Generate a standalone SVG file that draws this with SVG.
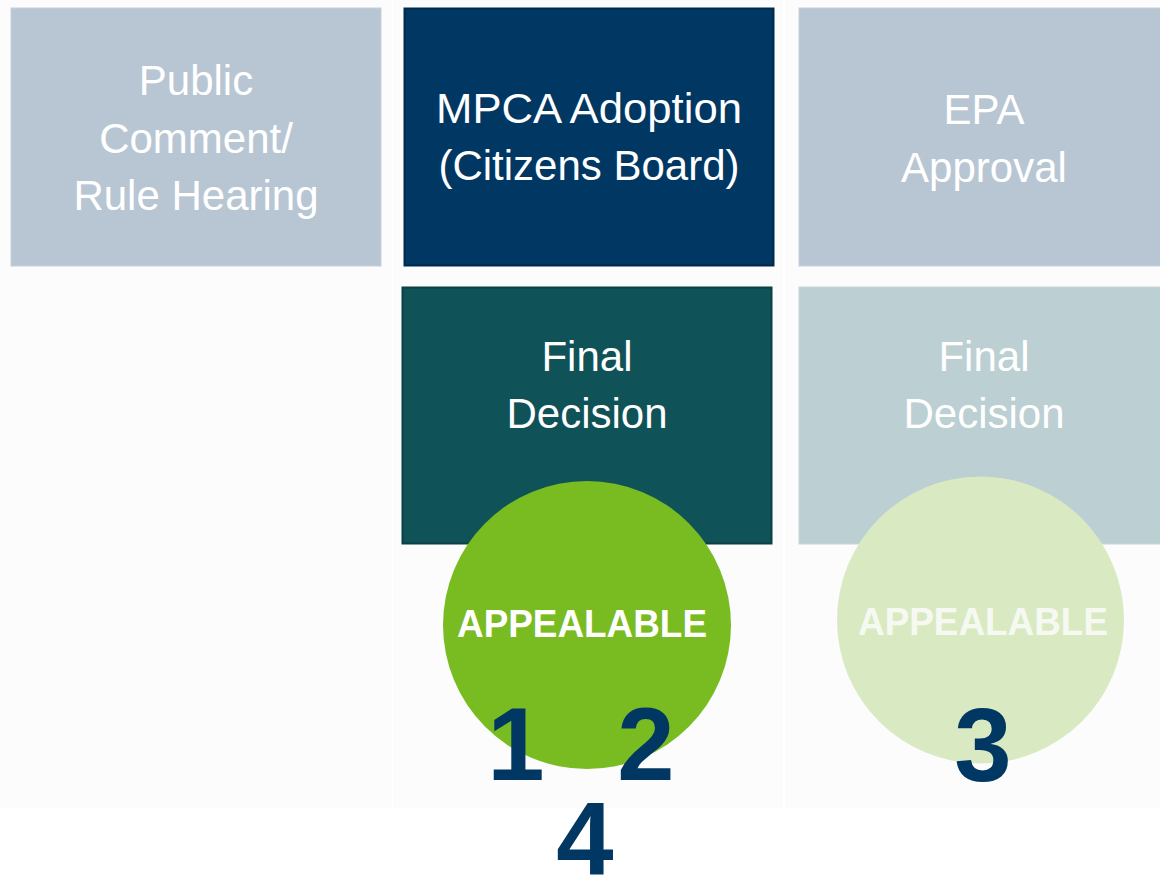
<svg xmlns="http://www.w3.org/2000/svg" width="1160" height="878" viewBox="0 0 1160 878">
<style>
.lbl{font-family:"Liberation Sans",Arial,sans-serif;font-size:42px;fill:#ffffff;text-anchor:middle}
.app{font-family:"Liberation Sans",Arial,sans-serif;font-size:38px;font-weight:bold;text-anchor:middle}
.num{font-family:"Liberation Sans",Arial,sans-serif;font-size:103px;font-weight:bold;fill:#003763;text-anchor:middle}
</style>
<rect x="0" y="0" width="1160" height="878" fill="#ffffff"/>
<g id="columns">
<rect x="0" y="0" width="392" height="808" fill="#fcfcfc"/>
<rect x="393" y="0" width="390" height="808" fill="#fcfcfc"/>
<rect x="785" y="0" width="375" height="808" fill="#fcfcfc"/>
</g>
<g id="public-comment">
<rect x="11" y="8" width="370" height="258" fill="#b8c6d4" stroke="#c4d0dc" stroke-width="1"/>
<text class="lbl" x="196" y="95">Public</text>
<text class="lbl" x="196" y="153">Comment/</text>
<text class="lbl" x="196" y="210">Rule Hearing</text>
</g>
<g id="mpca-adoption">
<rect x="404.5" y="8.5" width="369" height="257" fill="#003763" stroke="#002a4c" stroke-width="2"/>
<text class="lbl" x="589" y="123" textLength="306" lengthAdjust="spacingAndGlyphs">MPCA Adoption</text>
<text class="lbl" x="589" y="180">(Citizens Board)</text>
</g>
<g id="epa-approval">
<rect x="799" y="8" width="370" height="258" fill="#b8c6d4" stroke="#c4d0dc" stroke-width="1"/>
<text class="lbl" x="984" y="124">EPA</text>
<text class="lbl" x="984" y="182">Approval</text>
</g>
<g id="final-decision-mpca">
<rect x="402.5" y="287.5" width="369" height="256" fill="#0f5257" stroke="#0a4145" stroke-width="2"/>
<text class="lbl" x="587" y="371">Final</text>
<text class="lbl" x="587" y="428">Decision</text>
</g>
<g id="final-decision-epa">
<rect x="799" y="287" width="370" height="257" fill="#bccfd2" stroke="#c6d6d9" stroke-width="1"/>
<text class="lbl" x="984" y="371">Final</text>
<text class="lbl" x="984" y="428">Decision</text>
</g>
<g id="appealable-1">
<circle cx="587" cy="625" r="144" fill="#78bc21"/>
<text class="app" x="582" y="637" fill="#ffffff" textLength="250" lengthAdjust="spacingAndGlyphs">APPEALABLE</text>
</g>
<g id="appealable-2">
<circle cx="980.5" cy="620" r="143.5" fill="#d9eac3"/>
<text class="app" x="983" y="635" fill="#f6f9f2" textLength="250" lengthAdjust="spacingAndGlyphs">APPEALABLE</text>
</g>
<g id="numbers">
<text class="num" x="516" y="780">1</text>
<text class="num" x="646" y="780">2</text>
<text class="num" x="983" y="781">3</text>
<text class="num" x="585" y="875">4</text>
</g>
<g id="connectors"></g>
</svg>
